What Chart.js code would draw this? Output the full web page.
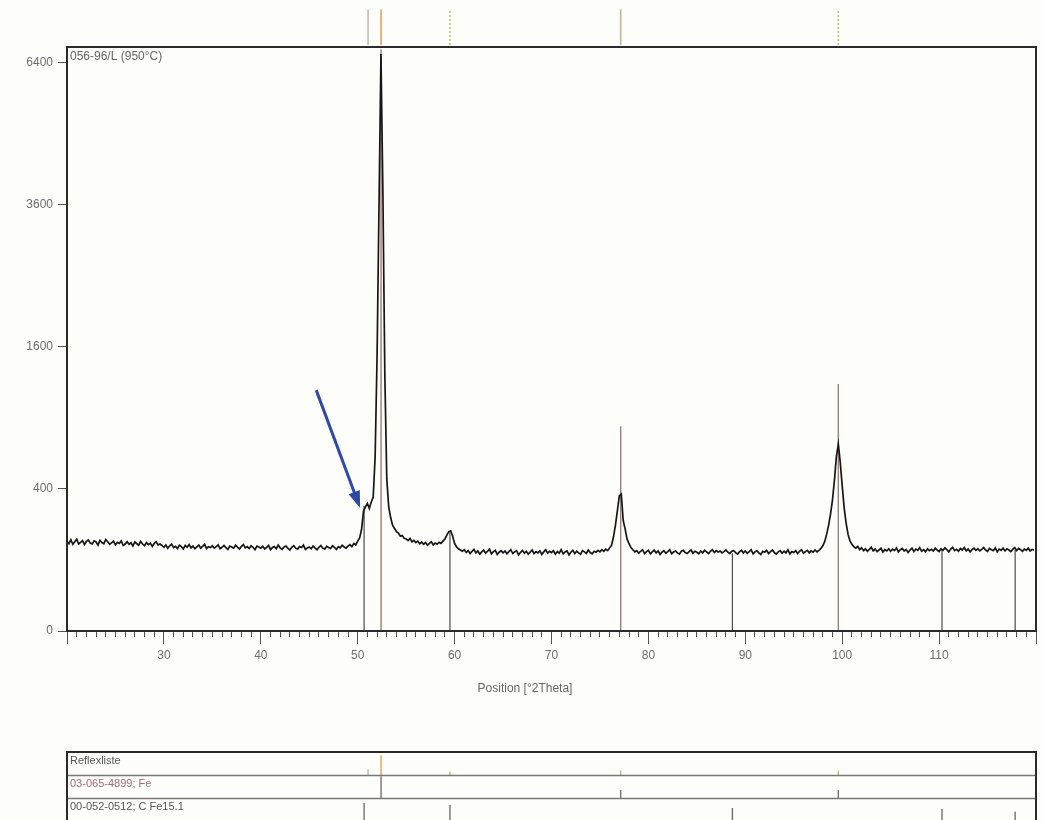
<!DOCTYPE html>
<html>
<head>
<meta charset="utf-8">
<title>056-96/L (950°C)</title>
<script src="https://cdn.jsdelivr.net/npm/chart.js@4.4.1/dist/chart.umd.min.js"></script>
<style>
  html, body { margin: 0; padding: 0; background: #fdfdfa; overflow: hidden; }
  #wrap { position: relative; width: 1044px; height: 820px; }
  canvas { position: absolute; left: 0; }
  #main { top: 0; }
  #peaks { top: 0; }
  #refs { top: 745px; }
</style>
</head>
<body>
<div id="wrap">
  <canvas id="main" width="1044" height="700"></canvas>
  <canvas id="peaks" width="1044" height="47"></canvas>
  <canvas id="refs" width="1044" height="76"></canvas>
</div>
<script>
// ---------- data ----------

// measured scan, 20..119.8 °2θ in 0.2° steps (counts)
const scanStart = 20.0;
const scanStep = 0.2;
const counts = [
  160,151,165,149,158,167,150,156,162,148,159,164,153,150,161,157,146,163,155,151,166,158,149,154,160,
  147,156,152,161,145,150,158,149,154,143,157,151,146,159,150,144,155,148,153,142,152,158,147,150,145,
  139,147,136,144,150,138,142,135,146,141,133,145,139,148,137,143,134,140,146,136,142,149,135,141,138,
  144,136,141,147,134,139,145,138,132,143,140,136,146,139,133,142,148,137,141,135,144,139,131,143,140,
  136,142,133,139,145,131,138,141,134,146,137,132,140,143,135,130,139,144,136,133,141,138,146,132,137,
  140,134,143,137,131,139,145,136,133,142,138,135,144,139,132,141,137,146,140,136,143,148,141,152,147,
  160,172,205,285,305,322,298,330,355,600,1500,3600,6600,3800,1300,460,305,255,222,208,196,190,178,181,170,
  168,162,170,158,163,155,160,151,157,149,155,146,152,158,147,153,149,156,152,160,168,182,196,199,178,
  152,140,134,130,126,131,122,128,119,126,132,121,127,117,124,130,120,126,133,118,125,129,116,123,128,
  121,127,118,125,131,119,124,128,115,122,129,120,126,117,123,130,119,125,121,127,116,124,131,120,126,
  122,128,117,125,120,131,118,124,127,115,123,129,119,126,121,117,128,124,119,130,122,118,126,123,129,
  124,131,126,133,128,137,146,176,222,287,362,372,242,206,167,151,138,131,124,128,120,126,131,119,125,
  129,118,124,130,121,127,116,123,128,120,125,131,118,124,127,121,117,126,129,122,119,125,130,120,126,
  123,118,127,121,129,124,119,126,131,122,128,124,127,121,125,130,123,119,126,128,122,117,124,129,121,
  127,120,125,131,118,124,128,121,116,126,123,129,119,125,130,122,117,124,128,120,126,121,131,118,125,
  122,128,119,126,131,120,125,129,121,127,123,130,124,129,135,144,159,186,222,272,342,452,602,692,562,
  418,302,232,186,161,149,141,136,142,131,137,128,134,126,132,139,127,133,125,130,136,124,131,127,134,
  126,133,128,137,124,131,135,127,132,122,130,136,125,133,129,138,126,131,124,134,128,132,127,136,130,
  125,134,129,137,131,124,133,139,128,132,126,135,130,138,127,133,124,131,136,129,134,127,132,138,130,
  126,135,131,128,137,124,133,129,136,127,134,130,125,132,138,128,135,131,126,133,129,136,127,132,130
];

const sampleName = '056-96/L (950°C)';
const xTitle = 'Position [°2Theta]';
const yTicks = [0, 400, 1600, 3600, 6400];

// reference pattern: ferrite
const feLabel = '03-065-4899; Fe';
const fePos = [52.41, 77.14, 99.6];
const feHeight = [6700, 830, 1210];
const feRow = [0.95, 0.35, 0.35];

// reference pattern: austenite
const austLabel = '00-052-0512; C Fe15.1';
const austPos = [50.66, 59.52, 88.67, 110.3, 117.85];
const austHeight = [310, 195, 120, 130, 130];
const austRow = [0.78, 0.7, 0.57, 0.52, 0.4];

// peak list
const peakLabel = 'Reflexliste';
const peakPos = [51.07, 52.41, 59.52, 77.14, 99.6];
const peakRow = [0.25, 0.85, 0.15, 0.2, 0.2];

// arrow pointing at the shoulder (°2θ, counts)
const arrowFrom = { x: 45.72, y: 1150 };
const arrowTo = { x: 50.25, y: 300 };

// ---------- styles ----------
const FONT = "'Liberation Sans', Arial, sans-serif";
const peakColors = ['#c4bcb2', '#dea35e', '#d8ae7a', '#c9b497', '#d6ae7c'];
const peakDash = [[], [], [2, 2], [], [2, 2]];
const rowColors = ['#555555', '#a56a7c', '#555555'];

// ---------- square-root intensity axis ----------
class SqrtScale extends Chart.LinearScale {
  static id = 'sqrt';
  static defaults = Chart.LinearScale.defaults;

  getPixelForValue(value) {
    if (value === null || isNaN(value)) return NaN;
    const lo = Math.sqrt(this.min), hi = Math.sqrt(this.max);
    return this.getPixelForDecimal((Math.sqrt(Math.max(value, 0)) - lo) / (hi - lo));
  }

  getValueForPixel(pixel) {
    const lo = Math.sqrt(this.min), hi = Math.sqrt(this.max);
    const r = lo + this.getDecimalForPixel(pixel) * (hi - lo);
    return r * r;
  }
}
Chart.register(SqrtScale);

// vertical sticks from base to top, separated by null gaps
function sticks(pos, base, tops) {
  const pts = [];
  pos.forEach((x, i) => {
    const b = Array.isArray(base) ? base[i] : base;
    const t = Array.isArray(tops) ? tops[i] : tops;
    pts.push({ x, y: b }, { x, y: t }, { x, y: null });
  });
  return pts;
}

const scanPoints = counts.map((c, i) => ({ x: scanStart + i * scanStep, y: c }));

// ---------- plugins ----------
const framePlugin = {
  id: 'frame',
  afterDraw(chart) {
    const { ctx, chartArea: a } = chart;
    ctx.save();
    ctx.strokeStyle = '#2a2a2a';
    ctx.lineWidth = 2;
    ctx.strokeRect(a.left, a.top, a.right - a.left, a.bottom - a.top);
    ctx.restore();
  }
};

const textPlugin = {
  id: 'texts',
  afterDraw(chart) {
    const { ctx, chartArea: a } = chart;
    ctx.save();
    ctx.fillStyle = '#666';
    ctx.font = '12px ' + FONT;
    ctx.textBaseline = 'top';
    ctx.fillText(sampleName, a.left + 3, a.top + 4);
    ctx.textAlign = 'center';
    ctx.fillText(xTitle, 525, 683);
    ctx.restore();
  }
};

const arrowPlugin = {
  id: 'arrow',
  afterDatasetsDraw(chart) {
    const { ctx, scales: { x, y } } = chart;
    const x0 = x.getPixelForValue(arrowFrom.x), y0 = y.getPixelForValue(arrowFrom.y);
    const x1 = x.getPixelForValue(arrowTo.x), y1 = y.getPixelForValue(arrowTo.y);
    const a = Math.atan2(y1 - y0, x1 - x0);
    const c = Math.cos(a), s = Math.sin(a);
    ctx.save();
    ctx.strokeStyle = ctx.fillStyle = '#2e4aa6';
    ctx.lineWidth = 3;
    ctx.beginPath();
    ctx.moveTo(x0, y0);
    ctx.lineTo(x1 - 12 * c, y1 - 12 * s);
    ctx.stroke();
    ctx.beginPath();
    ctx.moveTo(x1, y1);
    ctx.lineTo(x1 - 17 * c + 6 * s, y1 - 17 * s - 6 * c);
    ctx.lineTo(x1 - 17 * c - 6 * s, y1 - 17 * s + 6 * c);
    ctx.closePath();
    ctx.fill();
    ctx.restore();
  }
};

const rowsPlugin = {
  id: 'rows',
  afterDraw(chart) {
    const { ctx, chartArea: a, scales: { y } } = chart;
    ctx.save();
    ctx.strokeStyle = '#777';
    ctx.lineWidth = 1.5;
    [1, 2].forEach(r => {
      const py = Math.round(y.getPixelForValue(r)) + 0.5;
      ctx.beginPath(); ctx.moveTo(a.left, py); ctx.lineTo(a.right, py); ctx.stroke();
    });
    ctx.strokeStyle = '#2a2a2a';
    ctx.lineWidth = 2;
    ctx.beginPath();
    ctx.moveTo(a.left, a.bottom); ctx.lineTo(a.left, a.top);
    ctx.lineTo(a.right, a.top); ctx.lineTo(a.right, a.bottom);
    ctx.stroke();
    ctx.font = '11px ' + FONT;
    ctx.textBaseline = 'top';
    [peakLabel, feLabel, austLabel].forEach((t, r) => {
      ctx.fillStyle = rowColors[r];
      ctx.fillText(t, a.left + 3, y.getPixelForValue(r) + 3);
    });
    ctx.restore();
  }
};

const common = {
  responsive: false,
  animation: false,
  events: [],
  plugins: { legend: { display: false }, tooltip: { enabled: false } }
};

// ---------- main diffractogram ----------
new Chart(document.getElementById('main'), {
  type: 'line',
  data: {
    datasets: [
      {
        label: sampleName,
        data: scanPoints,
        borderColor: '#161616',
        borderWidth: 1.7,
        pointRadius: 0,
        tension: 0,
        order: 0
      },
      {
        label: feLabel,
        data: sticks(fePos, 0, feHeight),
        borderColor: '#a07c72',
        borderWidth: 1.4,
        pointRadius: 0,
        order: 1
      },
      {
        label: austLabel,
        data: sticks(austPos, 0, austHeight),
        borderColor: '#4d4d4d',
        borderWidth: 1.2,
        pointRadius: 0,
        order: 2
      }
    ]
  },
  options: {
    ...common,
    layout: { padding: { top: 47, right: 8, bottom: 29, left: 0 } },
    scales: {
      x: {
        type: 'linear',
        min: 20,
        max: 120,
        afterFit: s => { s.height = 40; },
        ticks: {
          stepSize: 1,
          maxTicksLimit: 200,
          autoSkip: false,
          maxRotation: 0,
          padding: 4,
          color: '#6e6e6e',
          font: { family: FONT, size: 12 },
          callback: v => (v % 10 === 0 && v > 20 && v < 120) ? String(v) : ''
        },
        grid: {
          drawOnChartArea: false,
          tickLength: 13,
          tickColor: '#555',
          tickBorderDash: c => (c.tick && c.tick.value % 10 === 0) ? [] : [5, 30]
        },
        border: { display: true, color: '#2a2a2a', width: 2 }
      },
      y: {
        type: 'sqrt',
        min: 0,
        max: 6760,
        bounds: 'data',
        afterBuildTicks: s => { s.ticks = yTicks.map(v => ({ value: v })); },
        afterFit: s => { s.width = 67; },
        ticks: {
          autoSkip: false,
          padding: 5,
          color: '#6e6e6e',
          font: { family: FONT, size: 12 },
          callback: v => String(v)
        },
        grid: { drawOnChartArea: false, tickLength: 9, tickColor: '#555' },
        border: { display: true, color: '#2a2a2a', width: 2 }
      }
    }
  },
  plugins: [framePlugin, arrowPlugin, textPlugin]
});

// ---------- peak markers above the plot ----------
new Chart(document.getElementById('peaks'), {
  type: 'line',
  data: {
    datasets: [{
      label: peakLabel,
      data: sticks(peakPos, 0.04, 0.8),
      borderWidth: 1.6,
      pointRadius: 0,
      segment: {
        borderColor: c => peakColors[Math.floor(c.p0DataIndex / 3)],
        borderDash: c => peakDash[Math.floor(c.p0DataIndex / 3)]
      }
    }]
  },
  options: {
    ...common,
    layout: { padding: { left: 67, right: 8, top: 0, bottom: 0 } },
    scales: {
      x: { type: 'linear', min: 20, max: 120, display: false },
      y: { type: 'linear', min: 0, max: 1, display: false }
    }
  }
});

// ---------- reference pattern rows ----------
new Chart(document.getElementById('refs'), {
  type: 'line',
  data: {
    datasets: [
      {
        label: peakLabel,
        data: sticks(peakPos, 1, peakRow.map(h => 1 - h)),
        borderWidth: 1.4,
        pointRadius: 0,
        segment: { borderColor: c => peakColors[Math.floor(c.p0DataIndex / 3)] }
      },
      {
        label: feLabel,
        data: sticks(fePos, 2, feRow.map(h => 2 - h)),
        borderColor: '#7a7070',
        borderWidth: 1.4,
        pointRadius: 0
      },
      {
        label: austLabel,
        data: sticks(austPos, 3, austRow.map(h => 3 - h)),
        borderColor: '#707070',
        borderWidth: 1.4,
        pointRadius: 0
      }
    ]
  },
  options: {
    ...common,
    layout: { padding: { left: 67, right: 8, top: 7, bottom: 0 } },
    scales: {
      x: { type: 'linear', min: 20, max: 120, display: false },
      y: { type: 'linear', min: 0, max: 3, reverse: true, display: false }
    }
  },
  plugins: [rowsPlugin]
});
</script>
</body>
</html>
